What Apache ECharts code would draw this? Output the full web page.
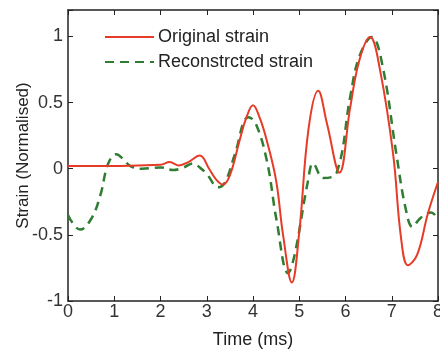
<!DOCTYPE html>
<html>
<head>
<meta charset="utf-8">
<script src="https://cdn.jsdelivr.net/npm/echarts@6/dist/echarts.min.js"></script>
<style>
  html, body { margin: 0; padding: 0; background: #fff; }
  #chart { width: 440px; height: 354px; }
</style>
</head>
<body>
<div id="chart"></div>
<script>
// values
const timeOrig = [0, 0.5, 1.0, 1.5, 2.0, 2.2, 2.4, 2.6, 2.85, 3.05, 3.2, 3.35, 3.5, 3.7, 3.85, 4.0, 4.15, 4.3, 4.5, 4.65, 4.84, 5.0, 5.2, 5.41, 5.6, 5.87, 6.1, 6.3, 6.53, 6.75, 7.03, 7.2, 7.35, 7.55, 7.78, 8.0];
const strainOrig = [0.02, 0.02, 0.02, 0.025, 0.03, 0.05, 0.025, 0.05, 0.10, 0.0, -0.08, -0.12, -0.05, 0.2, 0.38, 0.48, 0.38, 0.21, -0.09, -0.5, -0.86, -0.48, 0.3, 0.59, 0.34, -0.03, 0.46, 0.82, 0.995, 0.74, 0.11, -0.52, -0.73, -0.65, -0.34, -0.1];

const timeRecon = [0, 0.1, 0.26, 0.5, 0.7, 0.87, 1.05, 1.2, 1.35, 1.6, 2.0, 2.27, 2.5, 2.7, 2.85, 3.0, 3.25, 3.4, 3.6, 3.9, 4.05, 4.3, 4.51, 4.76, 4.9, 5.19, 5.3, 5.52, 5.81, 6.1, 6.3, 6.57, 6.8, 7.1, 7.3, 7.45, 7.6, 7.75, 7.85, 8.0];
const strainRecon = [-0.35, -0.41, -0.46, -0.38, -0.2, 0.04, 0.11, 0.07, 0.02, 0.0, 0.01, -0.01, 0.01, 0.04, 0.01, -0.04, -0.14, -0.1, 0.1, 0.39, 0.35, 0.06, -0.39, -0.79, -0.65, -0.09, 0.04, -0.07, -0.03, 0.54, 0.85, 0.995, 0.78, 0.11, -0.3, -0.44, -0.38, -0.34, -0.33, -0.38];

const xTicks = [0, 1, 2, 3, 4, 5, 6, 7, 8];
const yTicks = [-1, -0.5, 0, 0.5, 1];

const chart = echarts.init(document.getElementById('chart'));

const font = 'Liberation Sans';
const axisCommon = {
  type: 'value',
  axisLine: { show: true, onZero: false, lineStyle: { color: '#222', width: 1.5 } },
  axisTick: { show: true, inside: true, length: 5, lineStyle: { color: '#222' } },
  splitLine: { show: false }
};

const option = {
  animation: false,
  grid: { left: 68, right: 2, top: 10, bottom: 53, outerBoundsMode: 'none' },
  legend: {
    orient: 'vertical',
    left: 99,
    top: 23,
    itemWidth: 49,
    itemHeight: 14,
    itemGap: 7,
    itemStyle: { opacity: 0 },
    textStyle: { fontFamily: font, fontSize: 18, color: '#222', padding: [0, 0, 0, -1] },
    data: ['Original strain', 'Reconstrcted strain']
  },
  xAxis: [
    Object.assign({}, axisCommon, {
      position: 'bottom', min: 0, max: 8, interval: 1,
      name: 'Time (ms)', nameLocation: 'middle', nameGap: 30,
      nameTextStyle: { fontFamily: font, fontSize: 18, color: '#222' },
      axisLabel: { fontFamily: font, fontSize: 18, color: '#333', margin: 2,
        formatter: v => xTicks.includes(v) ? String(v) : '' }
    }),
    Object.assign({}, axisCommon, {
      position: 'top', min: 0, max: 8, interval: 1,
      axisLabel: { show: false }
    })
  ],
  yAxis: [
    Object.assign({}, axisCommon, {
      position: 'left', min: -1, max: 1.2, interval: 0.5,
      name: 'Strain (Normalised)', nameLocation: 'middle', nameGap: 36,
      nameMoveOverlap: false,
      nameTextStyle: { fontFamily: font, fontSize: 17, color: '#222' },
      axisLabel: { fontFamily: font, fontSize: 18, color: '#333', margin: 5,
        formatter: v => yTicks.includes(v) ? String(v) : '' }
    }),
    Object.assign({}, axisCommon, {
      position: 'right', min: -1, max: 1.2, interval: 0.5,
      axisLabel: { show: false }
    })
  ],
  series: [
    {
      name: 'Original strain',
      type: 'line',
      smooth: 0.4,
      symbol: 'none',
      data: timeOrig.map((t, i) => [t, strainOrig[i]]),
      itemStyle: { color: '#e63b26' },
      lineStyle: { color: '#e63b26', width: 2 },
      z: 3
    },
    {
      name: 'Reconstrcted strain',
      type: 'line',
      smooth: 0.4,
      symbol: 'none',
      data: timeRecon.map((t, i) => [t, strainRecon[i]]),
      itemStyle: { color: '#2f7d32' },
      lineStyle: { color: '#2f7d32', width: 2.5, type: [9, 6] },
      z: 2
    }
  ]
};

chart.setOption(option);
</script>
</body>
</html>
